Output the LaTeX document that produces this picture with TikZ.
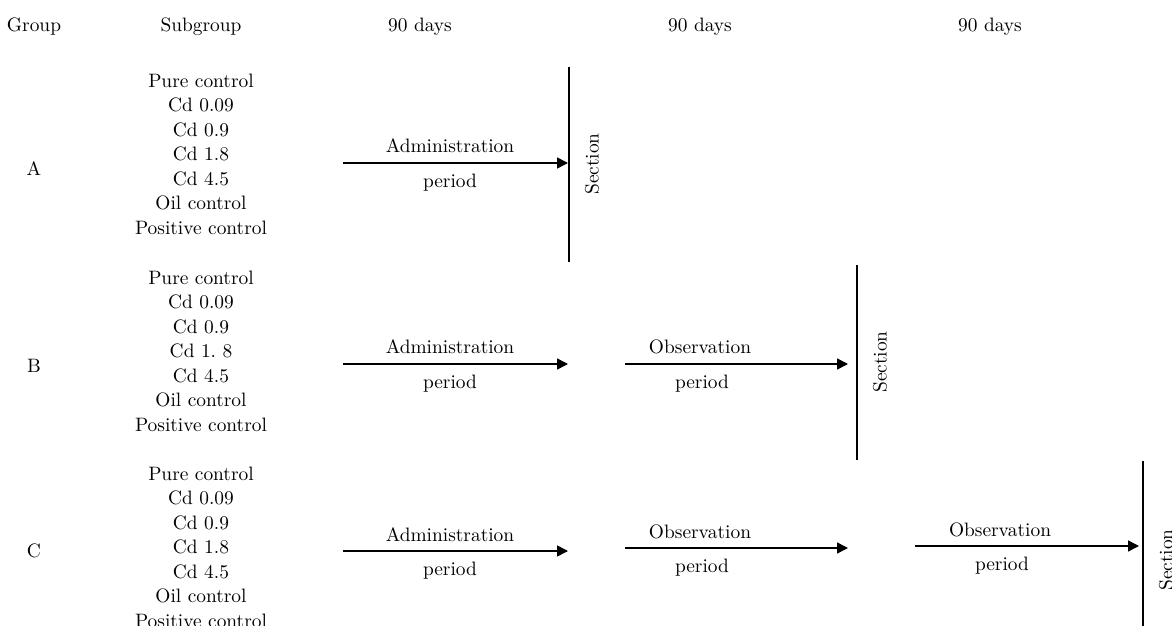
\documentclass[tikz,border=0pt]{standalone}
\usepackage{tikz}
\usetikzlibrary{arrows.meta,positioning}
\newcommand{\subgrouplist}[1]{Pure control\\Cd 0.09\\Cd 0.9\\Cd #1\\Cd 4.5\\Oil control\\Positive control}

\begin{document}
\begin{tikzpicture}[x=0.5pt, y=-0.5pt, font=\fontsize{9.7}{12.25}\selectfont,
  texte/.style={inner sep=0pt, align=center},
  fleche/.style={-{Triangle[length=5.5pt, width=5.5pt]}, line width=0.8pt},
  coupe/.style={line width=0.65pt}]
\clip (0,0) rectangle (1172,626);
% headings
\node[texte] (hg) at (34,27) {Group};
\node[texte] (hs) at (201,27) {Subgroup};
\node[texte] (h1) at (420,27) {90 days};
\node[texte] (h2) at (700,27) {90 days};
\node[texte] (h3) at (990,27) {90 days};
% group A
\node[texte] (gA) at (34,169) {A};
\node[texte] (sA) at (201,154) {\subgrouplist{1.8}};
\coordinate (a1s) at (343,163); \coordinate (a1e) at (568,163);
\draw[fleche] (a1s) -- (a1e);
\node[texte] (a1t) at (450,146) {Administration};
\node[texte] (a1b) at (450,183) {period};
\coordinate (cAt) at (569,67); \coordinate (cAb) at (569,262);
\draw[coupe] (cAt) -- (cAb);
\node[texte, rotate=90] (xA) at (592,164) {Section};
% group B
\node[texte] (gB) at (34,366) {B};
\node[texte] (sB) at (201,351) {\subgrouplist{1.\ 8}};
\coordinate (b1s) at (343,364); \coordinate (b1e) at (568,364);
\draw[fleche] (b1s) -- (b1e);
\node[texte] (b1t) at (450,347) {Administration};
\node[texte] (b1b) at (450,384) {period};
\coordinate (b2s) at (625,364); \coordinate (b2e) at (848,364);
\draw[fleche] (b2s) -- (b2e);
\node[texte] (b2t) at (700,347) {Observation};
\node[texte] (b2b) at (702,384) {period};
\coordinate (cBt) at (857,265); \coordinate (cBb) at (857,460);
\draw[coupe] (cBt) -- (cBb);
\node[texte, rotate=90] (xB) at (880,362) {Section};
% group C
\node[texte] (gC) at (34,551) {C};
\node[texte] (sC) at (201,547) {\subgrouplist{1.8}};
\coordinate (c1s) at (343,551); \coordinate (c1e) at (568,551);
\draw[fleche] (c1s) -- (c1e);
\node[texte] (c1t) at (450,535) {Administration};
\node[texte] (c1b) at (450,571) {period};
\coordinate (c2s) at (625,548); \coordinate (c2e) at (848,548);
\draw[fleche] (c2s) -- (c2e);
\node[texte] (c2t) at (700,532) {Observation};
\node[texte] (c2b) at (702,568) {period};
\coordinate (c3s) at (915,546); \coordinate (c3e) at (1139,546);
\draw[fleche] (c3s) -- (c3e);
\node[texte] (c3t) at (1000,530) {Observation};
\node[texte] (c3b) at (1002,566) {period};
\coordinate (cCt) at (1143,461); \coordinate (cCb) at (1143,660);
\draw[coupe] (cCt) -- (cCb);
\node[texte, rotate=90] (xC) at (1166,560) {Section};
\end{tikzpicture}
\end{document}
